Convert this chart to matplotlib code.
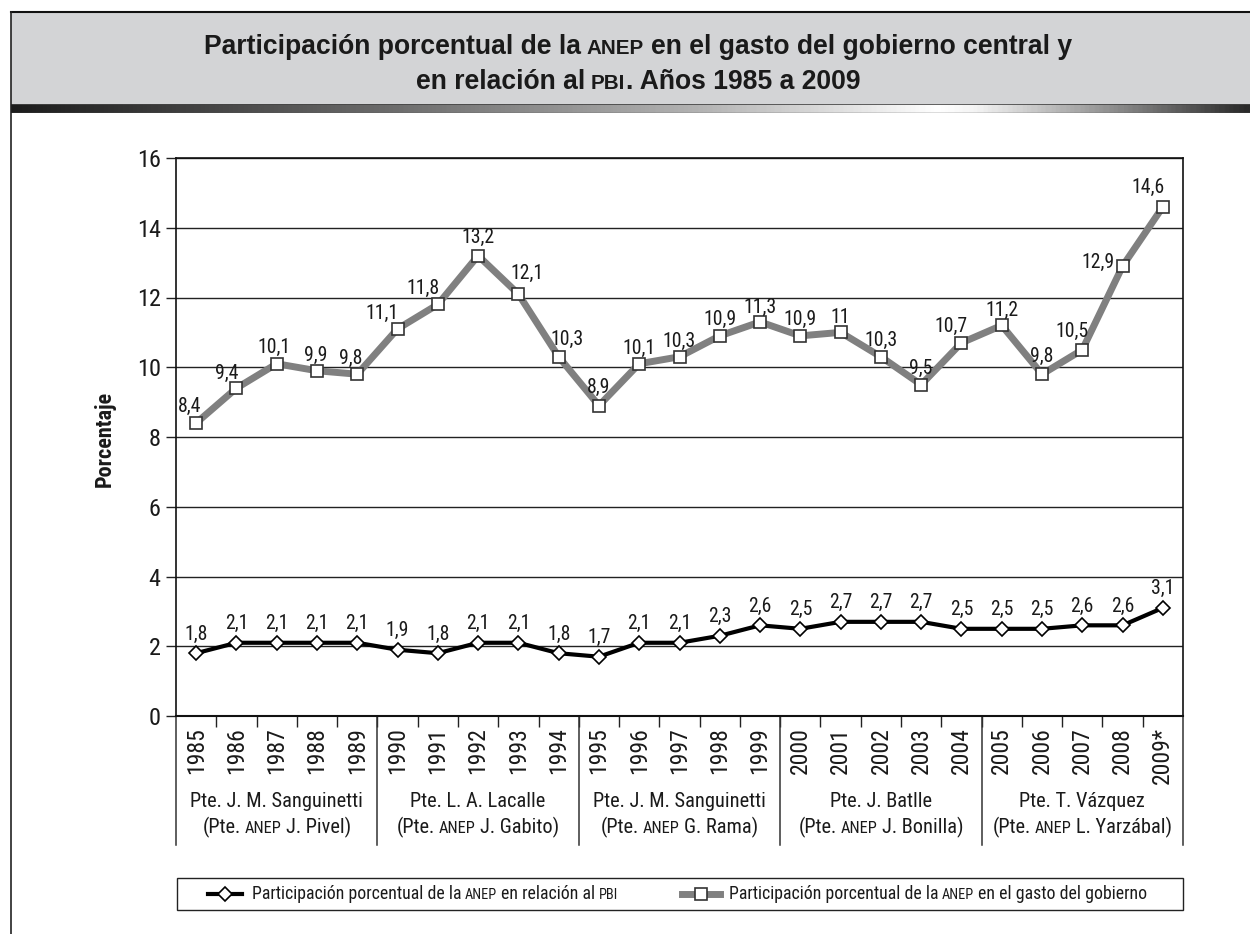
import os
import matplotlib
matplotlib.use("Agg")
import matplotlib.pyplot as plt
from matplotlib import font_manager as fm
from matplotlib.font_manager import FontProperties
from matplotlib.colors import LinearSegmentedColormap
from matplotlib.patches import Rectangle
from matplotlib.lines import Line2D
import numpy as np

# ---------------- data ----------------
years = ["1985", "1986", "1987", "1988", "1989",
         "1990", "1991", "1992", "1993", "1994",
         "1995", "1996", "1997", "1998", "1999",
         "2000", "2001", "2002", "2003", "2004",
         "2005", "2006", "2007", "2008", "2009*"]
gasto_gobierno = [8.4, 9.4, 10.1, 9.9, 9.8, 11.1, 11.8, 13.2, 12.1, 10.3,
                  8.9, 10.1, 10.3, 10.9, 11.3, 10.9, 11.0, 10.3, 9.5, 10.7,
                  11.2, 9.8, 10.5, 12.9, 14.6]
relacion_pbi = [1.8, 2.1, 2.1, 2.1, 2.1, 1.9, 1.8, 2.1, 2.1, 1.8,
                1.7, 2.1, 2.1, 2.3, 2.6, 2.5, 2.7, 2.7, 2.7, 2.5,
                2.5, 2.5, 2.6, 2.6, 3.1]
group_presidents = ["Pte. J. M. Sanguinetti", "Pte. L. A. Lacalle",
                    "Pte. J. M. Sanguinetti", "Pte. J. Batlle", "Pte. T. Vázquez"]
group_anep_heads = ["J. Pivel)", "J. Gabito)", "G. Rama)", "J. Bonilla)", "L. Yarzábal)"]
group_len = 5

# label offsets (pixels) for the upper series
gov_label_offsets = [(-7, 17), (-10, 15), (-3, 16), (-1, 15), (-7, 16),
                     (-16, 15), (-15, 16), (0, 18), (9, 21), (8, 17),
                     (0, 18), (0, 15), (0, 15), (0, 16), (0, 15),
                     (0, 16), (0, 15), (0, 16), (0, 16), (-10, 16),
                     (0, 15), (0, 18), (-10, 18), (-25, 4), (-15, 19)]

# ---------------- fonts ----------------
all_files = {}
for p in fm.findSystemFonts() + [f.fname for f in fm.fontManager.ttflist]:
    all_files[os.path.basename(p).lower()] = p


def pick(cands):
    for c in cands:
        if c in all_files:
            return all_files[c]
    return None


NARROW_REG = pick(["liberationsansnarrow-regular.ttf", "robotocondensed-regular.ttf",
                   "opensans_condensed-regular.ttf", "opensans-condensedregular.ttf",
                   "notosans-condensed.ttf", "notosans-condensedregular.ttf",
                   "dejavusanscondensed.ttf"])
NARROW_BOLD = pick(["liberationsansnarrow-bold.ttf", "robotocondensed-bold.ttf",
                    "opensans_condensed-bold.ttf", "opensans-condensedbold.ttf",
                    "notosans-condensedbold.ttf", "dejavusanscondensed-bold.ttf"])
SF = 1.0
if NARROW_REG and "dejavu" in NARROW_REG.lower():
    SF = 0.9


def fp_reg(size):
    if NARROW_REG:
        return FontProperties(fname=NARROW_REG, size=size * SF)
    return FontProperties(family="Liberation Sans", size=size * 0.86)


def fp_bold(size):
    if NARROW_BOLD:
        return FontProperties(fname=NARROW_BOLD, size=size * SF)
    return FontProperties(family="Liberation Sans", weight="bold", size=size * 0.86)


def fp_title(size):
    return FontProperties(family="Liberation Sans", weight="bold", size=size)


W, H = 1250, 934
fig = plt.figure(figsize=(12.5, 9.34), dpi=100)
renderer = fig.canvas.get_renderer()


def fx(px):
    return px / W


def fy(py):
    return 1 - py / H


def measure(s, fp):
    t = fig.text(0, 0, s, fontproperties=fp)
    w = t.get_window_extent(renderer).width
    t.remove()
    return w


def rich_text(x, ybase, pieces, maker, ha="center", color="#1a1a1a"):
    """pieces: list of (text, size, space_before)."""
    widths, gaps = [], []
    for s, size, sp in pieces:
        fp = maker(size)
        widths.append(measure(s, fp))
        if sp:
            g = measure("a a", fp) - measure("aa", fp)
        else:
            g = 0.5
        gaps.append(g)
    gaps[0] = 0
    total = sum(widths) + sum(gaps)
    cur = x - total / 2 if ha == "center" else x
    for (s, size, sp), w, g in zip(pieces, widths, gaps):
        cur += g
        fig.text(fx(cur), fy(ybase), s, fontproperties=maker(size),
                 ha="left", va="baseline", color=color)
        cur += w


# ---------------- header ----------------
fig.patches.append(Rectangle((fx(11), fy(104)), fx(W - 11), (104 - 12) / H,
                             transform=fig.transFigure, facecolor="#d3d4d6",
                             edgecolor="none", zorder=0))
fig.lines.append(Line2D([fx(11), 1], [fy(12), fy(12)], transform=fig.transFigure,
                        color="#111111", lw=1.5))
fig.lines.append(Line2D([fx(11), fx(11)], [fy(12), 0], transform=fig.transFigure,
                        color="#222222", lw=1.2))

gax = fig.add_axes([fx(11), fy(113), fx(W - 11), 9 / H])
cmap = LinearSegmentedColormap.from_list(
    "hdr", [(0.0, "#1c1c1c"), (0.3, "#6a6a6a"), (0.56, "#b4b4b4"),
            (0.75, "#ffffff"), (0.78, "#f4f4f4"), (1.0, "#2a2a2a")])
gax.imshow(np.linspace(0, 1, 600)[None, :], aspect="auto", cmap=cmap,
           extent=[0, 1, 0, 1])
gax.axhline(1, color="#444444", lw=1.2)
gax.axhline(0, color="#555555", lw=1.0)
gax.set_xlim(0, 1)
gax.set_ylim(0, 1)
gax.axis("off")

TS = 19.1
rich_text(638, 54, [("Participación porcentual de la", TS, False),
                    ("ANEP", TS * 0.78, True),
                    ("en el gasto del gobierno central y", TS, True)], fp_title)
rich_text(638, 89, [("en relación al", TS, False),
                    ("PBI", TS * 0.78, True),
                    (". Años 1985 a 2009", TS, False)], fp_title)

# ---------------- plot ----------------
ax = fig.add_axes([fx(176), fy(716), (1183 - 176) / W, (716 - 158) / H])
x = np.arange(len(years))
ax.set_axisbelow(True)
ax.yaxis.grid(True, color="#222222", lw=1)

ax.plot(x, gasto_gobierno, color="#808080", lw=5, marker="s", ms=8, mfc="white",
        mec="#333333", mew=1.2, zorder=3)
ax.plot(x, relacion_pbi, color="black", lw=3, marker="D", ms=7, mfc="white",
        mec="black", mew=1.2, zorder=4)


def fmt(v):
    return f"{v:g}".replace(".", ",")


LBL = 14.2
for i, v in enumerate(gasto_gobierno):
    dx, dy = gov_label_offsets[i]
    ax.annotate(fmt(v), (x[i], v), xytext=(dx * 0.72, dy * 0.72),
                textcoords="offset points", ha="center", va="center",
                fontproperties=fp_reg(LBL), color="#1a1a1a", zorder=5)
for i, v in enumerate(relacion_pbi):
    ax.annotate(fmt(v), (x[i], v), xytext=(0, 19 * 0.72),
                textcoords="offset points", ha="center", va="center",
                fontproperties=fp_reg(LBL), color="#1a1a1a", zorder=5)

ax.set_xlim(-0.5, len(years) - 0.5)
ax.set_ylim(0, 16)
ax.set_yticks(range(0, 17, 2))
ax.set_yticklabels([str(v) for v in range(0, 17, 2)], color="#1a1a1a")
for lbl in ax.get_yticklabels():
    lbl.set_fontproperties(fp_reg(17.5))
ax.tick_params(axis="y", length=7, width=1, pad=4, color="#222222")
ax.set_xticks(x)
ax.set_xticklabels(years, rotation=90, color="#1a1a1a")
for lbl in ax.get_xticklabels():
    lbl.set_fontproperties(fp_reg(17))
ax.set_xticks(x[:-1] + 0.5, minor=True)
ax.tick_params(axis="x", which="major", length=0, pad=8)
ax.tick_params(axis="x", which="minor", length=8, width=1, color="#222222")
for s in ax.spines.values():
    s.set_color("#111111")
    s.set_linewidth(1.2)
ax.spines["bottom"].set_linewidth(1.5)

ybot = (716 - 845) / (716 - 158)
for b in range(0, len(years) + 1, group_len):
    ax.plot([b - 0.5, b - 0.5], [0, ybot], transform=ax.get_xaxis_transform(),
            clip_on=False, color="#333333", lw=1.1)

# group labels
GS = 14.7
for g, (pres, head) in enumerate(zip(group_presidents, group_anep_heads)):
    xc_px = ax.transData.transform((g * group_len + (group_len - 1) / 2, 0))[0]
    rich_text(xc_px, 807, [(pres, GS, False)], fp_reg)
    rich_text(xc_px, 833, [("(Pte.", GS, False), ("ANEP", GS * 0.8, True),
                           (head, GS, True)], fp_reg)

fig.text(fx(105), fy(439), "Porcentaje", rotation=90, ha="center", va="center",
         fontproperties=fp_bold(16), color="#1a1a1a")

# ---------------- legend ----------------
fig.patches.append(Rectangle((fx(177), fy(910)), (1183 - 177) / W, (910 - 878) / H,
                             transform=fig.transFigure, facecolor="white",
                             edgecolor="#222222", lw=1.0))
ly = 894
fig.lines.append(Line2D([fx(208), fx(225), fx(242)], [fy(ly)] * 3, transform=fig.transFigure,
                        color="black", lw=3, marker="D", ms=7, mfc="white", mec="black",
                        mew=1.2, markevery=[1]))
fig.lines.append(Line2D([fx(682), fx(701), fx(720)], [fy(ly)] * 3, transform=fig.transFigure,
                        color="#808080", lw=5, marker="s", ms=8, mfc="white",
                        mec="#333333", mew=1.2, markevery=[1]))
LS = 12.8
rich_text(252, ly + 5, [("Participación porcentual de la", LS, False),
                        ("ANEP", LS * 0.8, True),
                        ("en relación al", LS, True),
                        ("PBI", LS * 0.8, True)], fp_reg, ha="left")
rich_text(729, ly + 5, [("Participación porcentual de la", LS, False),
                        ("ANEP", LS * 0.8, True),
                        ("en el gasto del gobierno", LS, True)], fp_reg, ha="left")

fig.savefig("out.png", dpi=100, facecolor="white")
